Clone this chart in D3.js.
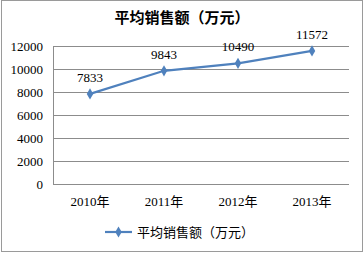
<!DOCTYPE html>
<html>
<head>
<meta charset="utf-8">
<script src="https://cdn.jsdelivr.net/npm/d3@7"></script>
<style>
body { margin: 0; background: #fff; }
text { font-family: "Liberation Serif", "Noto Sans CJK SC", serif; fill: #000; }
</style>
</head>
<body>
<script>
var years = ["2010年", "2011年", "2012年", "2013年"];
var sales = [7833, 9843, 10490, 11572];
var yTicks = [0, 2000, 4000, 6000, 8000, 10000, 12000];
var seriesName = "平均销售额（万元）";

var W = 364, H = 253;
var margin = {left: 53, right: 15, top: 46, bottom: 69};

var svg = d3.select("body").append("svg")
	.attr("width", W)
	.attr("height", H);

// outer chart border
svg.append("rect")
	.attr("x", 1.5).attr("y", 0.5)
	.attr("width", W - 3).attr("height", H - 2)
	.attr("fill", "#fff")
	.attr("stroke", "#9a9a9a");

var x = d3.scaleBand()
	.domain(years)
	.range([margin.left, W - margin.right]);

var y = d3.scaleLinear()
	.domain([0, 12000])
	.range([H - margin.bottom, margin.top]);

// gridlines
svg.append("g")
	.selectAll("line")
	.data(yTicks)
	.enter()
	.append("line")
	.attr("x1", margin.left)
	.attr("x2", W - margin.right)
	.attr("y1", function(d) { return Math.round(y(d)) + 0.5; })
	.attr("y2", function(d) { return Math.round(y(d)) + 0.5; })
	.attr("stroke", "#8c8c8c")
	.attr("stroke-width", 1);

// left axis line
svg.append("line")
	.attr("x1", margin.left + 0.5).attr("x2", margin.left + 0.5)
	.attr("y1", y(12000)).attr("y2", y(0))
	.attr("stroke", "#8c8c8c");

// y tick labels
svg.append("g")
	.selectAll("text")
	.data(yTicks)
	.enter()
	.append("text")
	.attr("x", 43)
	.attr("y", function(d) { return y(d) + 4.5; })
	.attr("text-anchor", "end")
	.style("font-size", "13px")
	.text(function(d) { return d; });

// x tick labels
svg.append("g")
	.selectAll("text")
	.data(years)
	.enter()
	.append("text")
	.attr("x", function(d) { return x(d) + x.bandwidth() / 2; })
	.attr("y", 206)
	.attr("text-anchor", "middle")
	.style("font-size", "13px")
	.text(function(d) { return d; });

var LINE_COLOR = "#4f81bd";
var pts = years.map(function(d, i) { return {year: d, value: sales[i]}; });

var line = d3.line()
	.x(function(d) { return x(d.year) + x.bandwidth() / 2; })
	.y(function(d) { return y(d.value); });

svg.append("path")
	.datum(pts)
	.attr("d", line)
	.attr("fill", "none")
	.attr("stroke", LINE_COLOR)
	.attr("stroke-width", 2.2);

var diamond = d3.symbol().type(d3.symbolDiamond).size(36);

svg.append("g")
	.selectAll("path")
	.data(pts)
	.enter()
	.append("path")
	.attr("d", diamond)
	.attr("fill", LINE_COLOR)
	.attr("transform", function(d) {
		return "translate(" + (x(d.year) + x.bandwidth() / 2) + "," + y(d.value) + ")";
	});

// data labels
svg.append("g")
	.selectAll("text")
	.data(pts)
	.enter()
	.append("text")
	.attr("x", function(d) { return x(d.year) + x.bandwidth() / 2; })
	.attr("y", function(d) { return y(d.value) - 12; })
	.attr("text-anchor", "middle")
	.style("font-size", "13px")
	.text(function(d) { return d.value; });

// title
svg.append("text")
	.attr("x", 182)
	.attr("y", 23)
	.attr("text-anchor", "middle")
	.style("font-family", "'Noto Sans CJK SC', sans-serif")
	.style("font-weight", "bold")
	.style("font-size", "15px")
	.text(seriesName);

// legend
var legend = svg.append("g").attr("transform", "translate(105,232)");
legend.append("line")
	.attr("x1", 0).attr("x2", 27)
	.attr("stroke", LINE_COLOR)
	.attr("stroke-width", 2.2);
legend.append("path")
	.attr("d", diamond)
	.attr("fill", LINE_COLOR)
	.attr("transform", "translate(13.5,0)");
legend.append("text")
	.attr("x", 32)
	.attr("y", 5)
	.style("font-family", "'Noto Sans CJK SC', sans-serif")
	.style("font-size", "13px")
	.text(seriesName);
</script>
</body>
</html>
